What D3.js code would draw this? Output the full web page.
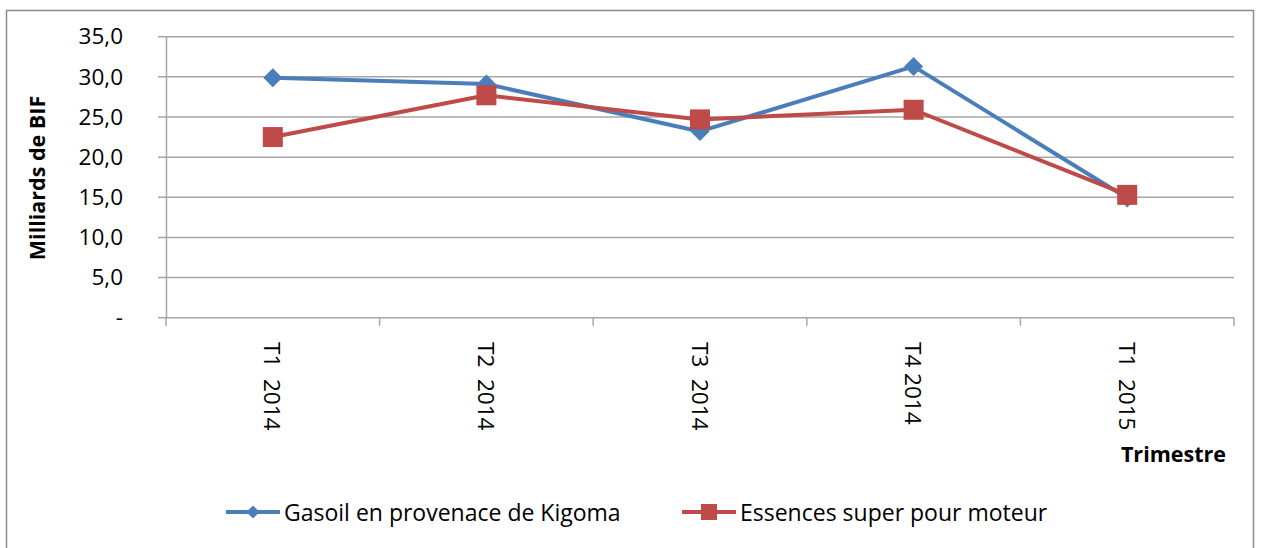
<!DOCTYPE html>
<html lang="fr">
<head>
    <meta charset="utf-8">
    <title>Trimestre</title>
    <script src="https://d3js.org/d3.v7.min.js" charset="utf-8"></script>
    <style>
        body { margin: 0; background: #fff; }
        text { font-family: "Open Sans", Lato, sans-serif; fill: #000; }
    </style>
</head>
<body>

    <script>

    var categories = ["T1  2014", "T2  2014", "T3  2014", "T4 2014", "T1  2015"]
    var gasoil = [29.9, 29.1, 23.2, 31.3, 14.9]
    var essence = [22.5, 27.7, 24.7, 25.9, 15.3]
    var yTicks = [0, 5, 10, 15, 20, 25, 30, 35]
    var seriesNames = ["Gasoil en provenace de Kigoma", "Essences super pour moteur"]

    var w = 1263
    var h = 548
    var blue = "#4a7ebb"
    var red = "#be4b48"
    var grid = "#a6a6a6"

    var svg = d3.select("body").append("svg").attr("width", w).attr("height", h)

    // outer chart frame
    svg.append("rect").attr("x", 6.5).attr("y", 10.5).attr("width", 1247).attr("height", 560)
        .attr("fill", "none").attr("stroke", "#8c8c8c").attr("stroke-width", 1.5)

    var x = d3.scaleBand().domain(categories).range([166, 1234]).padding(0)
    var y = d3.scaleLinear().domain([0, 35]).range([317.7, 36.7])

    function fmt(v) {
        return v === 0 ? "-" : d3.format(".1f")(v).replace(".", ",")
    }

    // gridlines
    svg.append("g").selectAll("line").data(yTicks).enter().append("line")
        .attr("x1", 158).attr("x2", 1234)
        .attr("y1", function (d) { return y(d) }).attr("y2", function (d) { return y(d) })
        .attr("stroke", grid).attr("stroke-width", 1.5)

    // y axis
    var yAxis = d3.axisLeft(y).tickValues(yTicks).tickSize(0).tickPadding(43).tickFormat(fmt)
    var gy = svg.append("g").attr("transform", "translate(166,0)").call(yAxis)
    gy.select(".domain").attr("stroke", grid).attr("stroke-width", 1.5)
    gy.selectAll("text").style("font-size", "22.5px").attr("fill", "#222").attr("font-family", "Open Sans")

    // x axis: ticks at category boundaries
    var edges = categories.map(function (c) { return x(c) }).concat([x.range()[1]])
    svg.append("g").selectAll("line").data(edges).enter().append("line")
        .attr("x1", function (d) { return d }).attr("x2", function (d) { return d })
        .attr("y1", y(0)).attr("y2", y(0) + 8)
        .attr("stroke", grid).attr("stroke-width", 1.5)

    svg.append("g").selectAll("text").data(categories).enter().append("text")
        .attr("transform", function (d) { return "translate(" + (x(d) + x.bandwidth() / 2) + ",342) rotate(90)" })
        .attr("dominant-baseline", "central")
        .style("white-space", "pre")
        .style("font-size", "22.5px")
        .attr("fill", "#222")
        .text(function (d) { return d })

    // axis titles
    svg.append("text").attr("transform", "translate(36,178) rotate(-90)")
        .attr("text-anchor", "middle").attr("dominant-baseline", "central")
        .style("font-size", "21.5px").style("font-weight", "bold")
        .text("Milliards de BIF")

    svg.append("text").attr("x", 1226).attr("y", 462).attr("text-anchor", "end")
        .style("font-size", "21.5px").style("font-weight", "bold")
        .text("Trimestre")

    var line = d3.line()
        .x(function (d, i) { return x(categories[i]) + x.bandwidth() / 2 })
        .y(function (d) { return y(d) })

    var diamond = d3.symbol().type(d3.symbolDiamond2).size(230)
    var smallDiamond = d3.symbol().type(d3.symbolDiamond2).size(110)

    function drawSeries(data, color, marker) {
        svg.append("path").datum(data).attr("d", line)
            .attr("fill", "none").attr("stroke", color).attr("stroke-width", 4).attr("stroke-linejoin", "round")
        var g = svg.append("g")
        if (marker === "diamond") {
            g.selectAll("path").data(data).enter().append("path")
                .attr("d", diamond)
                .attr("transform", function (d, i) { return "translate(" + (x(categories[i]) + x.bandwidth() / 2) + "," + y(d) + ")" })
                .attr("fill", color)
        } else {
            g.selectAll("rect").data(data).enter().append("rect")
                .attr("x", function (d, i) { return x(categories[i]) + x.bandwidth() / 2 - 10 })
                .attr("y", function (d) { return y(d) - 10 })
                .attr("width", 20).attr("height", 20)
                .attr("fill", color)
        }
    }

    drawSeries(gasoil, blue, "diamond")
    drawSeries(essence, red, "square")

    // legend
    var legend = [
        {name: seriesNames[0], color: blue, marker: "diamond", x: 226},
        {name: seriesNames[1], color: red, marker: "square", x: 682}
    ]
    var ly = 512
    legend.forEach(function (l) {
        svg.append("line").attr("x1", l.x).attr("x2", l.x + 54).attr("y1", ly).attr("y2", ly)
            .attr("stroke", l.color).attr("stroke-width", 4)
        if (l.marker === "diamond") {
            svg.append("path").attr("d", smallDiamond).attr("transform", "translate(" + (l.x + 27) + "," + ly + ")").attr("fill", l.color)
        } else {
            svg.append("rect").attr("x", l.x + 19).attr("y", ly - 8).attr("width", 16).attr("height", 16).attr("fill", l.color)
        }
        svg.append("text").attr("x", l.x + 58).attr("y", ly).attr("dominant-baseline", "central")
            .style("font-size", "23px").attr("fill", "#222").text(l.name)
    })

    </script>

</body>
</html>
